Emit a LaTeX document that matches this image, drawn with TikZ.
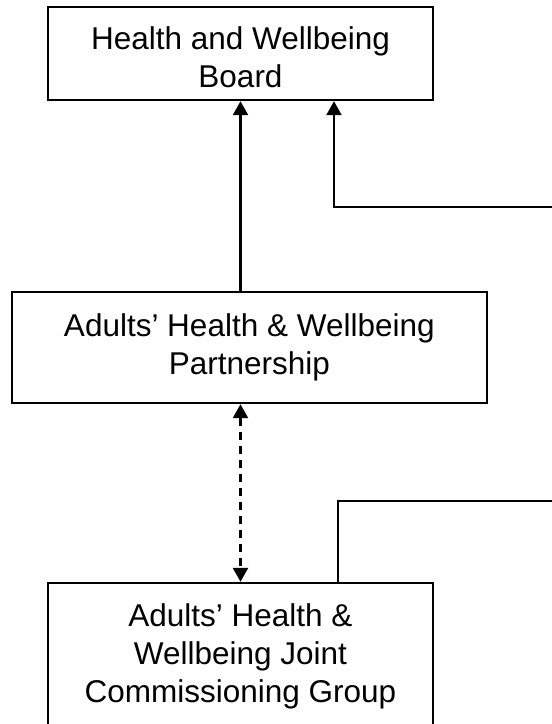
\documentclass[tikz,border=0pt]{standalone}
\usepackage{fontspec}
\setmainfont{Liberation Sans}
\usetikzlibrary{arrows.meta}

\begin{document}
\begin{tikzpicture}[node distance=294pt, line width=2.4pt,
box/.style={rectangle, draw=black, fill=white, line width=2.4pt, inner sep=0pt, align=center, font=\fontsize{31.5}{38}\selectfont},
arrow/.style={-{Triangle[length=14pt,width=15pt]}, line width=2.4pt},
dasharrow/.style={{Triangle[length=14pt,width=15pt]}-{Triangle[length=14pt,width=15pt]}, line width=2.4pt, dash pattern=on 8pt off 6pt}]
\useasboundingbox (0,0) rectangle (552pt,-724pt);
\node[box, minimum width=385pt, minimum height=93pt] (n1) at (240.5pt,-53.5pt) {\rule{0pt}{31pt}Health and Wellbeing\\Board};
\node[box, minimum width=475pt, minimum height=111pt, below of=n1, xshift=8.8pt] (n2) {Adults’ Health \& Wellbeing\\Partnership};
\node[box, minimum width=385pt, minimum height=146pt, below of=n2, node distance=308.5pt, xshift=-8.8pt] (n3) {Adults’ Health \&\\Wellbeing Joint\\Commissioning Group};
\coordinate (inA) at (552pt,-207pt);
\coordinate (outB) at (552pt,-501pt);
\draw[arrow] (n2.north -| n1) -- (n1.south);
\draw[arrow] (inA) -| ([xshift=93.5pt]n1.south);
\draw[dasharrow] (n2.south -| n1) -- (n3.north);
\draw ([xshift=97.5pt]n3.north) |- (outB);
\end{tikzpicture}
\end{document}
